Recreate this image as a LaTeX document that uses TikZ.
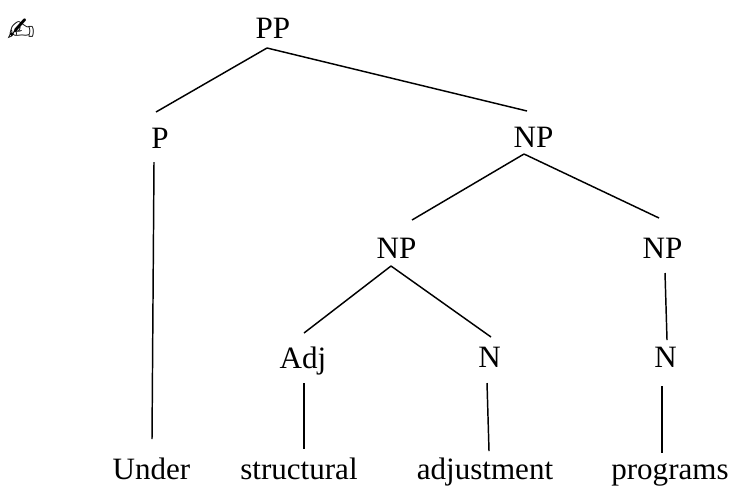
\documentclass[tikz,border=0pt]{standalone}
\usepackage{fontspec}
\setmainfont{Liberation Serif}
\newfontfamily\symf{DejaVu Sans}
\tikzset{lab/.style={font=\fontsize{23.3}{27}\selectfont,inner sep=0pt,anchor=base},edge/.style={draw=black,line width=1.1pt}}
\begin{document}
\begin{tikzpicture}[x=1pt,y=-1pt,scale=0.75]
\useasboundingbox (0,0) rectangle (733,486);
\fill[white] (0,0) rectangle (733,486);
\node[lab] (pp) at (273,38) {PP};
\node[lab] (p) at (160,148) {P};
\node[lab] (np) at (533.5,147) {NP};
\node[lab] (np1) at (396.5,258) {NP};
\node[lab] (np2) at (662.5,258) {NP};
\node[lab] (adj) at (303,368) {Adj};
\node[lab] (n1) at (489.5,367) {N};
\node[lab] (n2) at (665.5,367) {N};
\node[lab] (w1) at (151.5,479) {Under};
\node[lab] (w2) at (299,479) {structural};
\node[lab] (w3) at (485,479) {adjustment};
\node[lab] (w4) at (670,479) {programs};
\coordinate (a1) at (267,48); \coordinate (a2) at (156,112);
\coordinate (b2) at (527,111);
\draw[edge] (a1) -- (a2);
\draw[edge] (a1) -- (b2);
\coordinate (c1) at (154,162); \coordinate (c2) at (152,439);
\draw[edge] (c1) -- (c2);
\coordinate (d1) at (524,154); \coordinate (d2) at (412,220);
\coordinate (e2) at (659,218);
\draw[edge] (d1) -- (d2);
\draw[edge] (d1) -- (e2);
\coordinate (f1) at (391,266); \coordinate (f2) at (304,333); \coordinate (f3) at (491,337);
\draw[edge] (f1) -- (f2);
\draw[edge] (f1) -- (f3);
\coordinate (g1) at (665,273); \coordinate (g2) at (667,340);
\draw[edge] (g1) -- (g2);
\coordinate (h1) at (304,383); \coordinate (h2) at (304,449);
\draw[edge] (h1) -- (h2);
\coordinate (i1) at (487,383); \coordinate (i2) at (489,451);
\draw[edge] (i1) -- (i2);
\coordinate (j1) at (662,386); \coordinate (j2) at (662,453);
\draw[edge] (j1) -- (j2);
\node[font=\symf\fontsize{25}{25}\selectfont,inner sep=0pt] (pen) at (21,30) {✍};
\end{tikzpicture}
\end{document}
